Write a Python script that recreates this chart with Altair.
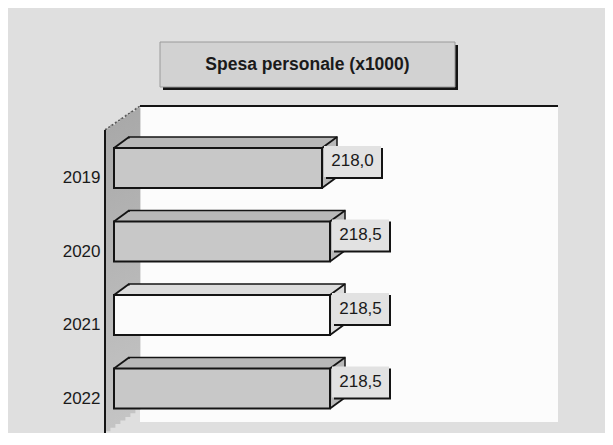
import altair as alt
import pandas as pd

# ---- data ----
years = ["2019", "2020", "2021", "2022"]
values = [218.0, 218.5, 218.5, 218.5]
labels = [f"{v:.1f}".replace(".", ",") for v in values]
x_domain = [205.0, 232.75]
title_text = "Spesa personale (x1000)"

df = pd.DataFrame({"year": years, "value": values, "label": labels})
one = pd.DataFrame({"k": [0]})

W, H = 444, 327
FONT = "Liberation Sans"
DX, DY, N = 15, 11, 8
INK = "#141414"

x_scale = alt.Scale(domain=x_domain, zero=False, nice=False, clamp=True)
y_scale = alt.Scale(domain=years, paddingInner=0.456, paddingOuter=0.452, align=0.632)
y_axis = alt.Axis(domain=False, ticks=False, grid=False, title=None, labelFont=FONT,
                  labelFontSize=17, labelColor="#1a1a1a", labelPadding=14,
                  labelOffset=10)

base = alt.Chart(df)
deco = alt.Chart(one)

layers = []

# white plot area (back panel)
layers.append(deco.mark_rect(fill="#fcfcfc").encode(
    x=alt.value(26), x2=alt.value(W), y=alt.value(0), y2=alt.value(316)))

# left 3D wall
grad = alt.LinearGradient(
    gradient="linear",
    stops=[alt.GradientStop(color="#a9a9a9", offset=0),
           alt.GradientStop(color="#c4c4c4", offset=1)],
    x1=0, x2=0, y1=0, y2=1)
for i in range(7):
    f = (i + 0.5) / 7
    x0 = -9 + 5 * i
    layers.append(deco.mark_rect(fill=grad).encode(
        x=alt.value(x0), x2=alt.value(x0 + 5.4),
        y=alt.value(24 - 24 * f), y2=alt.value(327 - 25 * f)))

layers.append(deco.mark_rule(color="#555555", strokeWidth=1.5, strokeDash=[2, 2]).encode(
    x=alt.value(-9), x2=alt.value(26), y=alt.value(24), y2=alt.value(0)))
layers.append(deco.mark_rule(color=INK, strokeWidth=2).encode(
    x=alt.value(-9), y=alt.value(24), y2=alt.value(327)))
layers.append(deco.mark_rule(color=INK, strokeWidth=2).encode(
    x=alt.value(26), x2=alt.value(W), y=alt.value(0)))

# title box
layers.append(deco.mark_rect(fill=INK).encode(
    x=alt.value(49), x2=alt.value(344), y=alt.value(-61), y2=alt.value(-16)))
layers.append(deco.mark_rect(fill="#d2d2d2", stroke="#9a9a9a", strokeWidth=1).encode(
    x=alt.value(46), x2=alt.value(341), y=alt.value(-64), y2=alt.value(-19)))
layers.append(deco.mark_text(text=title_text, font=FONT, fontSize=17.5, fontWeight="bold",
                             color="#1a1a1a", align="center", baseline="middle").encode(
    x=alt.value(193.5), y=alt.value(-41.5)))

# bars: 3D extrusion (top + side faces)
y_plain = alt.Y("year:N", scale=y_scale, axis=y_axis)
x_enc = alt.X("value:Q", scale=x_scale, axis=None)
side_fill = alt.condition(alt.datum.year == "2021", alt.value("#dcdcdc"), alt.value("#b8b8b8"))
front_fill = alt.condition(alt.datum.year == "2021", alt.value("#fbfbfb"), alt.value("#c8c8c8"))

for k in range(N, 0, -1):
    ox, oy = DX * k / N, -DY * k / N
    kw = dict(xOffset=ox, x2Offset=ox, yOffset=oy, y2Offset=oy)
    if k == N:
        kw.update(stroke=INK, strokeWidth=1.5)
    layers.append(base.mark_bar(**kw).encode(x=x_enc, y=y_plain, fill=side_fill))

# front faces
layers.append(base.mark_bar(stroke=INK, strokeWidth=2).encode(
    x=x_enc, y=y_plain, fill=front_fill))

# diagonal edges
diag = dict(color=INK, strokeWidth=1.8, x2Offset=DX, y2Offset=-DY)
top_y = alt.Y("year:N", scale=y_scale, bandPosition=0, axis=y_axis)
top_y2 = alt.Y2("year:N", bandPosition=0)
bot_y = alt.Y("year:N", scale=y_scale, bandPosition=1, axis=y_axis)
bot_y2 = alt.Y2("year:N", bandPosition=1)
layers.append(base.mark_rule(**diag).encode(x=alt.value(0), x2=alt.value(0), y=top_y, y2=top_y2))
layers.append(base.mark_rule(**diag).encode(x=x_enc, x2="value:Q", y=top_y, y2=top_y2))
layers.append(base.mark_rule(**diag).encode(x=x_enc, x2="value:Q", y=bot_y, y2=bot_y2))

# value label boxes
layers.append(base.mark_bar(fill=INK, size=31, xOffset=4, x2Offset=61,
                            yOffset=-4.5, y2Offset=-4.5).encode(
    x=x_enc, x2="value:Q", y=y_plain))
layers.append(base.mark_bar(fill="#e2e2e2", size=31, xOffset=2, x2Offset=59,
                            yOffset=-6.5, y2Offset=-6.5).encode(
    x=x_enc, x2="value:Q", y=y_plain))
layers.append(base.mark_text(font=FONT, fontSize=17, color="#1a1a1a", align="center",
                             baseline="middle", dx=30.5, dy=-6.5).encode(
    x=x_enc, y=y_plain, text="label:N"))

chart = alt.layer(*layers).properties(
    width=W, height=H,
    padding={"left": 106, "top": 98, "right": 47, "bottom": 0},
    autosize=alt.AutoSizeParams(type="none"),
    background="#dfdfdf",
).configure_view(strokeWidth=0)

chart.save("out.html", embed_options={"renderer": "svg", "actions": False})
